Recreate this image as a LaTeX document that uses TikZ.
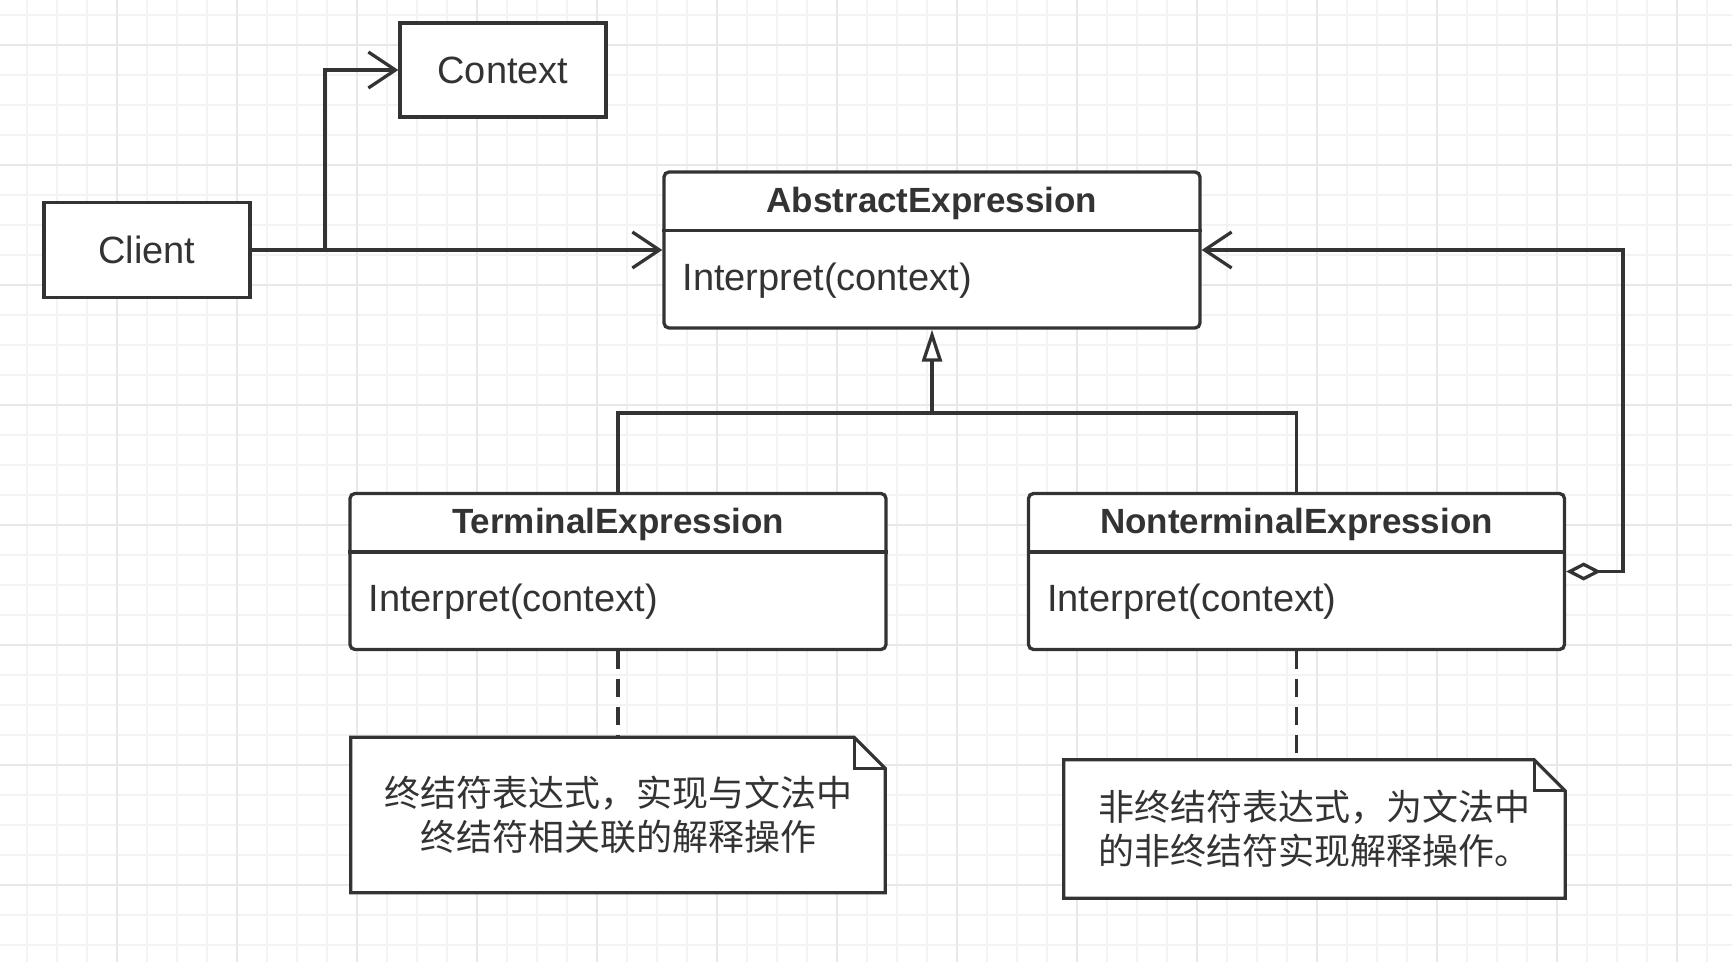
\documentclass[tikz,border=0pt]{standalone}
\usepackage{fontspec}
\setmainfont{Liberation Sans}
\newfontfamily\cjk{Noto Sans CJK SC}
\usetikzlibrary{arrows.meta,backgrounds}

\definecolor{ink}{HTML}{333333}
\definecolor{gridminor}{HTML}{F3F3F3}
\definecolor{gridmajor}{HTML}{E8E8E8}

\begin{document}
\begin{tikzpicture}[x=1pt, y=-1pt,
  link/.style={draw=ink, line width=3.3pt},
  assoc/.style={link, -{Straight Barb[length=27pt, width=36pt]}},
  plainbox/.style={link, fill=white, minimum width=206pt, minimum height=95pt,
    text=ink, font=\fontsize{38}{44}\selectfont},
  classbox/.style={link, fill=white, rounded corners=5pt,
    minimum width=536pt, minimum height=156pt},
  titletext/.style={inner sep=0pt, text=ink, font=\bfseries\fontsize{35}{42}\selectfont},
  methodtext/.style={inner sep=0pt, text=ink, font=\fontsize{38}{44}\selectfont},
  notetext/.style={align=center, text=ink, font=\cjk\fontsize{36}{44}\selectfont},
  notebox/.style={link, fill=white},
  notelink/.style={link, dash pattern=on 18pt off 10pt}]

  \useasboundingbox (0,0) rectangle (1732,962);

  % plain boxes
  \node[plainbox] (client) at (147,250) {Client};
  \node[plainbox, minimum height=94pt] (ctx) at (503,70) {Context};

  % classes
  \foreach \name/\x/\y/\title in {abs/932/250/AbstractExpression,
      term/618/571.5/TerminalExpression,
      nonterm/1296.5/571.5/NonterminalExpression} {
    \node[classbox] (\name) at (\x,\y) {};
    \draw[link] ([yshift=-60pt]\name.north west) -- ([yshift=-60pt]\name.north east);
    \node[titletext, anchor=base] (\name-title) at ([yshift=-42pt]\name.north) {\title};
    \node[methodtext, anchor=base west] (\name-op) at ([xshift=20pt, yshift=-120pt]\name.north west) {Interpret(context)};
  }

  % notes
  \node[notetext, minimum width=534pt, minimum height=155pt] (note1) at (618,815)
    {终结符表达式，实现与文法中\\终结符相关联的解释操作};
  \node[notetext, minimum width=501pt, minimum height=138pt] (note2) at (1314.5,829)
    {非终结符表达式，为文法中\\的非终结符实现解释操作。};

  \begin{pgfonlayer}{background}
    % background grid
    \fill[white] (0,0) rectangle (1732,962);
    \foreach \x in {27,57,...,1707} \draw[gridminor, line width=1.5pt] (\x,0) -- (\x,962);
    \foreach \y in {15,45,...,945} \draw[gridminor, line width=1.5pt] (0,\y) -- (1732,\y);
    \foreach \x in {117,237,...,1677} \draw[gridmajor, line width=1.5pt] (\x,0) -- (\x,962);
    \foreach \y in {45,165,...,885} \draw[gridmajor, line width=1.5pt] (0,\y) -- (1732,\y);
    % folded corners
    \foreach \n in {note1,note2} {
      \filldraw[notebox] (\n.north west) -- ([xshift=-31pt]\n.north east)
        -- ([yshift=-31pt]\n.north east) -- (\n.south east) -- (\n.south west) -- cycle;
      \draw[link] ([xshift=-31pt]\n.north east) |- ([yshift=-31pt]\n.north east);
    }
  \end{pgfonlayer}

  % connectors
  \coordinate (fork) at (325,250);
  \coordinate (join) at (932,413);
  \coordinate (loop) at (1623,250);
  \draw[assoc] (client.east) -- (abs.west);
  \draw[assoc] (fork) |- (ctx.west);
  \draw[link, -{Triangle[fill=white, length=32pt, width=20pt]}] (join) -- (abs.south);
  \draw[link] (term.north) |- (join) -| (nonterm.north);
  \draw[link, {Diamond[fill=white, length=35pt, width=18pt]}-{Straight Barb[length=27pt, width=36pt]}]
    (nonterm.east) -| (loop) -- (abs.east);
  \draw[notelink] (term.south) -- (term.south |- note1.north);
  \draw[notelink] (nonterm.south) -- (nonterm.south |- note2.north);
\end{tikzpicture}
\end{document}
